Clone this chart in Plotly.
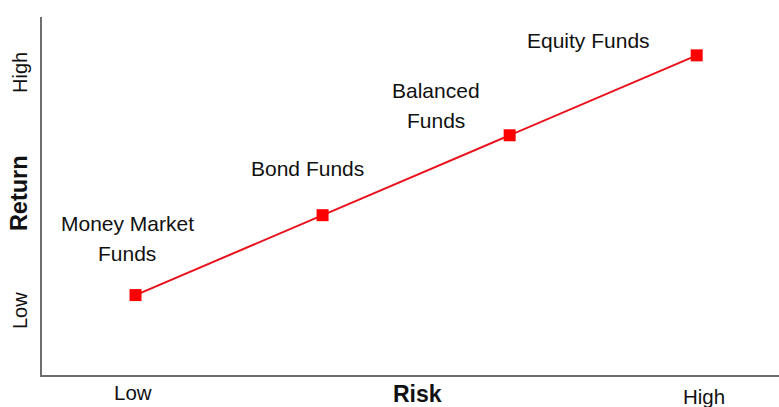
import plotly.graph_objects as go

fund_lines = [["Money Market", "Funds"], ["Bond Funds"], ["Balanced", "Funds"], ["Equity Funds"]]
risk = [1, 2, 3, 4]
ret = [1, 2, 3, 4]
label_x = [0.955, 1.92, 2.607, 3.42]
label_y = [1.71, 2.59, 3.375, 4.19]

FONT = "Liberation Sans, Arial, sans-serif"
TXT = "#111111"

W, H = 779, 407
L, T, R, B = 42, 17, 0, 32
PW, PH = W - L - R, H - T - B

fig = go.Figure()
fig.add_trace(go.Scatter(
    x=risk, y=ret, mode="lines+markers",
    line=dict(color="#e8101a", width=2),
    marker=dict(symbol="square", size=12, color="#ff0000"),
    hoverinfo="skip", showlegend=False,
))

ann = []
for lines, lx, ly in zip(fund_lines, label_x, label_y):
    n = len(lines)
    for i, t in enumerate(lines):
        shift = ((n - 1) / 2 - i) * 30
        ann.append(dict(x=lx, y=ly, xref="x", yref="y", text=t, showarrow=False,
                        xanchor="center", yanchor="middle", yshift=shift,
                        font=dict(size=21, color=TXT, family=FONT)))

def py(px_below):  # paper y for pixels below plot bottom
    return -px_below / PH

def px_left(px):  # paper x for pixels left of plot
    return -px / PW

ann += [
    dict(x=0.987, y=py(17), xref="x", yref="paper", text="Low", showarrow=False,
         xanchor="center", yanchor="middle", font=dict(size=20.5, color=TXT, family=FONT)),
    dict(x=4.04, y=py(21), xref="x", yref="paper", text="High", showarrow=False,
         xanchor="center", yanchor="middle", font=dict(size=20.5, color=TXT, family=FONT)),
    dict(x=2.505, y=py(19), xref="x", yref="paper", text="<b>Risk</b>", showarrow=False,
         xanchor="center", yanchor="middle", font=dict(size=23, color=TXT, family=FONT)),
    dict(x=px_left(22), y=3.78, xref="paper", yref="y", text="High", showarrow=False,
         textangle=-90, xanchor="center", yanchor="middle",
         font=dict(size=20, color=TXT, family=FONT)),
    dict(x=px_left(23.5), y=2.27, xref="paper", yref="y", text="<b>Return</b>", showarrow=False,
         textangle=-90, xanchor="center", yanchor="middle",
         font=dict(size=23.5, color=TXT, family=FONT)),
    dict(x=px_left(22), y=0.80, xref="paper", yref="y", text="Low", showarrow=False,
         textangle=-90, xanchor="center", yanchor="middle",
         font=dict(size=20, color=TXT, family=FONT)),
]

fig.update_layout(
    width=W, height=H,
    margin=dict(l=L, r=R, t=T, b=B),
    paper_bgcolor="white", plot_bgcolor="white",
    annotations=ann,
    xaxis=dict(range=[0.5, 4.44], showgrid=False, zeroline=False, showticklabels=False,
               ticks="", showline=True, linecolor="#6e6e6e", linewidth=1.5),
    yaxis=dict(range=[0, 4.48], showgrid=False, zeroline=False, showticklabels=False,
               ticks="", showline=True, linecolor="#6e6e6e", linewidth=1.5),
)

fig.write_html("out.html",
               config={"displayModeBar": False},
               post_script="document.body.style.margin='0px';document.body.style.overflow='hidden';")
